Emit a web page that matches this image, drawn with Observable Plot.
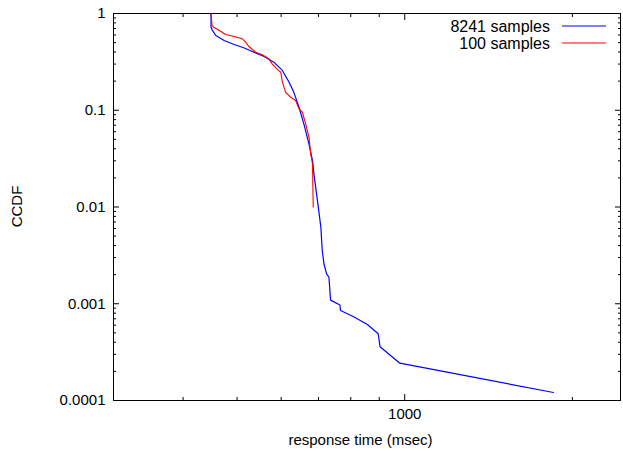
<!DOCTYPE html>
<html>
<head>
<meta charset="utf-8">
<script src="https://cdn.jsdelivr.net/npm/d3@7"></script>
<script src="https://cdn.jsdelivr.net/npm/@observablehq/plot@0.6"></script>
<style>
  html, body { margin: 0; padding: 0; background: #fff; }
  #chart { width: 623px; height: 451px; }
</style>
</head>
<body>
<div id="chart"></div>
<script>
// Series names
const seriesNames = ["8241 samples", "100 samples"];
const seriesColors = ["#0000ff", "#ff0000"];

// 8241 samples: response time (msec) and CCDF
const bigX = [449, 449, 451, 458, 474, 494, 514, 536, 559, 582, 603, 620, 632, 646, 659, 673, 683, 687, 697, 707, 711, 716, 724, 731, 736, 765, 767, 811, 857, 896, 903, 980, 1850];
const bigY = [1, 0.722, 0.678, 0.592, 0.526, 0.478, 0.442, 0.398, 0.359, 0.314, 0.258, 0.195, 0.154, 0.1075, 0.0724, 0.045, 0.0302, 0.022, 0.0117, 0.0062, 0.00355, 0.00259, 0.00204, 0.00188, 0.00109, 0.00097, 0.00085, 0.00073, 0.00061, 0.00049, 0.00036, 0.000243, 0.000121];

// 100 samples
const smallX = [449, 451, 454, 467, 477, 494, 511, 518, 525, 540, 555, 570, 578, 589, 599, 603, 611, 624, 637, 646, 655, 664, 673, 678, 683, 685];
const smallY = [1, 0.751, 0.722, 0.656, 0.607, 0.579, 0.548, 0.505, 0.456, 0.398, 0.374, 0.340, 0.302, 0.268, 0.247, 0.195, 0.154, 0.136, 0.126, 0.1035, 0.0954, 0.0724, 0.0527, 0.0355, 0.028, 0.01];

// Axis ticks
const xMajorTicks = [1000];
const xMajorLabels = ["1000"];
const xMinorTicks = [400, 500, 600, 700, 800, 900, 2000];
const yMajorTicks = [1, 0.1, 0.01, 0.001, 0.0001];
const yMajorLabels = ["1", "0.1", "0.01", "0.001", "0.0001"];
const yMinorMultipliers = [2, 3, 4, 5, 6, 7, 8, 9];
const yMinorTicks = [0.0001, 0.001, 0.01, 0.1].flatMap(d => yMinorMultipliers.map(m => +(d * m).toPrecision(3)));

const xLabel = "response time (msec)";
const yLabel = "CCDF";

const xLabelMap = new Map(xMajorTicks.map((d, i) => [d, xMajorLabels[i]]));
const yLabelMap = new Map(yMajorTicks.map((d, i) => [d, yMajorLabels[i]]));

const big = bigX.map((x, i) => ({x, y: bigY[i], s: seriesNames[0]}));
const small = smallX.map((x, i) => ({x, y: smallY[i], s: seriesNames[1]}));

const W = 623, H = 451;
const mL = 113, mR = 3, mT = 13, mB = 51;
const font = "Liberation Sans, Arial, Helvetica, sans-serif";
const FS = 15;

const tickOpts = {tickFormat: () => "", stroke: "#000", label: null};

const chart = Plot.plot({
  width: W,
  height: H,
  marginLeft: mL,
  marginRight: mR,
  marginTop: mT,
  marginBottom: mB,
  style: {fontFamily: font, fontSize: FS + "px", color: "#000", background: "#fff", overflow: "visible"},
  x: {type: "log", domain: [300, 2440], axis: null},
  y: {type: "log", domain: [0.0001, 1], axis: null},
  marks: [
    // tick marks (inward, gnuplot-style, mirrored)
    Plot.axisX(xMinorTicks, {anchor: "bottom", tickSize: -3, ...tickOpts}),
    Plot.axisX(xMinorTicks, {anchor: "top", tickSize: -3, ...tickOpts}),
    Plot.axisX(xMajorTicks, {anchor: "bottom", tickSize: -6, ...tickOpts}),
    Plot.axisX(xMajorTicks, {anchor: "top", tickSize: -6, ...tickOpts}),
    Plot.axisY(yMinorTicks, {anchor: "left", tickSize: -3, ...tickOpts}),
    Plot.axisY(yMinorTicks, {anchor: "right", tickSize: -3, ...tickOpts}),
    Plot.axisY(yMajorTicks, {anchor: "left", tickSize: -6, ...tickOpts}),
    Plot.axisY(yMajorTicks, {anchor: "right", tickSize: -6, ...tickOpts}),
    // tick labels
    Plot.axisX(xMajorTicks, {anchor: "bottom", tickSize: 0, tickPadding: 8, tickFormat: d => xLabelMap.get(d), fill: "#000", fontSize: FS, label: null}),
    Plot.axisY(yMajorTicks, {anchor: "left", tickSize: 0, tickPadding: 8, tickFormat: d => yLabelMap.get(d), fill: "#000", fontSize: FS, label: null}),
    Plot.frame({stroke: "#000", strokeWidth: 1}),
    Plot.line(big, {x: "x", y: "y", stroke: seriesColors[0], strokeWidth: 1.2}),
    Plot.line(small, {x: "x", y: "y", stroke: seriesColors[1], strokeWidth: 1.1})
  ]
});

document.getElementById("chart").appendChild(chart);

const svg = d3.select(chart);
// Axis titles
svg.append("text")
  .attr("x", mL + (W - mL - mR) / 2 - 6).attr("y", H - 6)
  .attr("text-anchor", "middle")
  .attr("font-family", font).attr("font-size", FS).attr("fill", "#000")
  .text(xLabel);
svg.append("text")
  .attr("transform", `translate(22, ${mT + (H - mT - mB) / 2}) rotate(-90)`)
  .attr("text-anchor", "middle")
  .attr("font-family", font).attr("font-size", FS).attr("fill", "#000")
  .text(yLabel);

// Legend (top-right, inside frame)
seriesNames.forEach((name, i) => {
  const cy = 26 + i * 17;
  svg.append("text")
    .attr("x", 550).attr("y", cy).attr("dy", "0.35em")
    .attr("text-anchor", "end")
    .attr("font-family", font).attr("font-size", 16).attr("fill", "#000")
    .text(name);
  svg.append("line")
    .attr("x1", 562).attr("x2", 606).attr("y1", cy).attr("y2", cy)
    .attr("stroke", seriesColors[i]).attr("stroke-width", 1.2);
});
</script>
</body>
</html>
